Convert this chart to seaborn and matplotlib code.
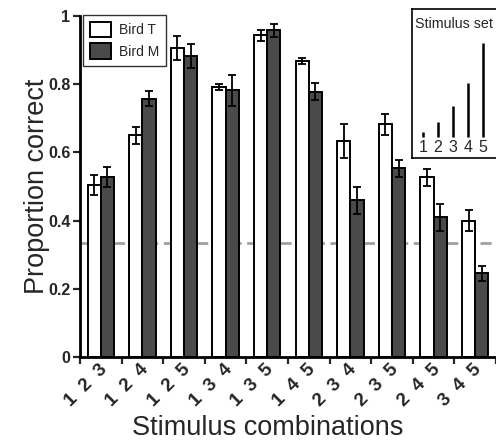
import matplotlib
matplotlib.use("Agg")
import matplotlib.pyplot as plt
from matplotlib.transforms import ScaledTranslation
import seaborn as sns
import pandas as pd
import numpy as np

combos = ["1  2  3", "1  2  4", "1  2  5", "1  3  4", "1  3  5",
          "1  4  5", "2  3  4", "2  3  5", "2  4  5", "3  4  5"]
bird_t = [0.505, 0.650, 0.905, 0.792, 0.943, 0.868, 0.633, 0.682, 0.527, 0.400]
bird_t_err = [0.030, 0.025, 0.035, 0.010, 0.015, 0.010, 0.050, 0.030, 0.025, 0.030]
bird_m = [0.528, 0.757, 0.883, 0.782, 0.958, 0.778, 0.460, 0.553, 0.410, 0.245]
bird_m_err = [0.030, 0.022, 0.035, 0.045, 0.020, 0.025, 0.040, 0.025, 0.040, 0.022]
chance = 1 / 3
stim_ids = [1, 2, 3, 4, 5]
stim_heights = [5, 15, 31, 54, 94]

sns.set_theme(style="ticks")
plt.rcParams["font.family"] = ["Liberation Sans", "DejaVu Sans"]

df = pd.DataFrame({
    "combo": combos * 2,
    "value": bird_t + bird_m,
    "bird": ["Bird T"] * len(combos) + ["Bird M"] * len(combos),
})

fig = plt.figure(figsize=(4.96, 4.45), dpi=100)
ax = fig.add_axes([80 / 496, 1 - 357 / 445, 416 / 496, 341 / 445])

width = 0.63
sns.barplot(data=df, x="combo", y="value", hue="bird",
            palette={"Bird T": "white", "Bird M": "#4a4a4a"},
            width=width, edgecolor="black", linewidth=1.4,
            errorbar=None, ax=ax, zorder=2)

pos = np.arange(len(combos))
off = width / 4
ax.errorbar(pos - off, bird_t, yerr=bird_t_err, fmt="none", ecolor="black",
            elinewidth=1.3, capsize=2.6, capthick=1.3, zorder=3)
ax.errorbar(pos + off, bird_m, yerr=bird_m_err, fmt="none", ecolor="black",
            elinewidth=1.3, capsize=2.6, capthick=1.3, zorder=3)

ax.axhline(chance, color="#a0a0a0", lw=2, ls=(0, (4, 2)), zorder=1)

ax.set_xlim(-0.5, len(combos) - 0.5)
ax.set_ylim(0, 1)
ax.set_yticks([0, 0.2, 0.4, 0.6, 0.8, 1])
ax.set_yticklabels(["0", "0.2", "0.4", "0.6", "0.8", "1"], fontweight="bold", fontsize=11.5)

# group boundary ticks (major), labels at centers (minor)
ax.set_xticks(np.arange(-0.5, len(combos), 1.0))
ax.set_xticklabels([])
ax.set_xticks(pos, minor=True)
ax.set_xticklabels(combos, minor=True, rotation=45, ha="right", va="top",
                   fontweight="bold", fontsize=13.5)
ax.tick_params(axis="x", which="minor", length=0, pad=3)
ax.tick_params(axis="x", which="major", length=5, width=1.6, direction="out")
ax.tick_params(axis="y", length=5, width=1.6, direction="out", pad=2)
for lab in ax.get_xticklabels(minor=True):
    lab.set_transform(lab.get_transform() + ScaledTranslation(7 / 72, 0, fig.dpi_scale_trans))

for s in ["top", "right"]:
    ax.spines[s].set_visible(False)
for s in ["left", "bottom"]:
    ax.spines[s].set_linewidth(2)
    ax.spines[s].set_color("black")

ax.set_xlabel("Stimulus combinations", fontsize=19.5)
ax.set_ylabel("Proportion correct", fontsize=19.5)
ax.xaxis.set_label_coords(0.452, -0.170)
ax.yaxis.set_label_coords(-0.072, 0.5)

handles, labels = ax.get_legend_handles_labels()
if ax.get_legend() is not None:
    ax.get_legend().remove()
leg = ax.legend(handles, labels, loc="upper left", bbox_to_anchor=(0.007, 1.003),
                borderaxespad=0, fontsize=10, frameon=True, fancybox=False,
                handlelength=1.5, handleheight=1.3, borderpad=0.5,
                labelspacing=0.45, handletextpad=0.6)
leg.get_frame().set_edgecolor("black")
leg.get_frame().set_linewidth(1.0)

# inset showing stimulus set
ins = fig.add_axes([412 / 496, 1 - 158 / 445, 88 / 496, 149 / 445])
ins.vlines(stim_ids, 0, stim_heights, colors="black", lw=1.8)
ins.set_xlim(1 - 11 / 15, 1 + 77 / 15)
ins.set_ylim(-21, 128)
ins.set_xticks([])
ins.set_yticks([])
for s in ins.spines.values():
    s.set_linewidth(1.2)
    s.set_color("black")
for i in stim_ids:
    ins.text(i, -10, str(i), ha="center", va="center", fontsize=11.5)
ins.text(0.45, 113, "Stimulus set", ha="left", va="center", fontsize=10.3,
         transform=ins.transData)

fig.savefig("out.png", dpi=100)
